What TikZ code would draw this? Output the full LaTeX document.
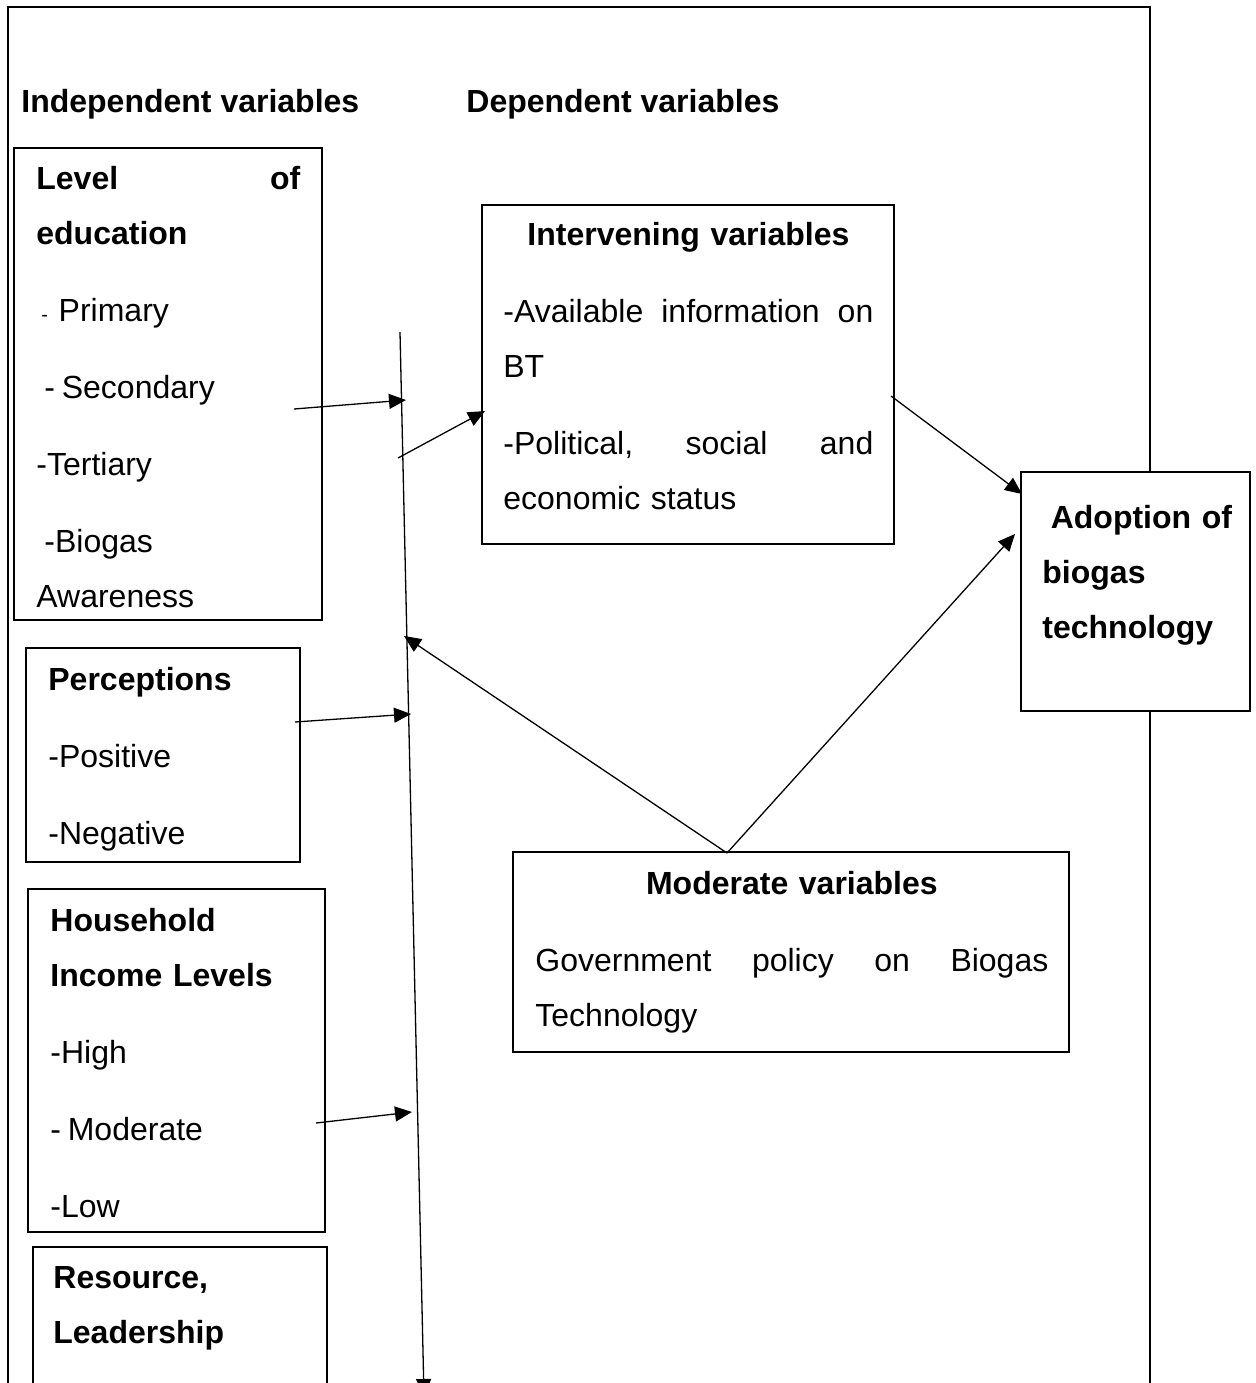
\documentclass[tikz,border=0pt]{standalone}
\usepackage{fontspec}
\setmainfont{Liberation Sans}
\usetikzlibrary{arrows.meta}

\tikzset{
  vbox/.style={draw, fill=white, line width=1.3pt, inner sep=0pt, outer sep=0pt, anchor=north west},
  txt/.style={inner sep=0pt, anchor=north west, align=left, font=\fontsize{16}{27.5}\selectfont},
  head/.style={inner sep=0pt, anchor=base west, font=\fontsize{16}{20}\selectfont\bfseries},
  conn/.style={line width=0.65pt, -{Triangle[length=8.5pt,width=7.5pt]}},
  frame/.style={line width=1.3pt}
}

\begin{document}
\begin{tikzpicture}[x=0.5pt,y=-0.5pt]
    \useasboundingbox (0,0) rectangle (1255,1383);
    \draw[frame] (8,7) rectangle (1150,1420);

    \node[head] (indepHead) at (21,112) {Independent variables};
    \node[head] (depHead) at (466,112) {Dependent variables};

    % boxes
    \node[vbox, minimum width=154pt, minimum height=236pt] (edu) at (14,148) {};
    \node[vbox, minimum width=137pt, minimum height=107pt] (perc) at (26,648) {};
    \node[vbox, minimum width=148.5pt, minimum height=171.5pt] (hh) at (28,889) {};
    \node[vbox, minimum width=147pt, minimum height=110pt] (res) at (33,1247) {};
    \node[vbox, minimum width=206pt, minimum height=169.5pt] (intv) at (482,205) {};
    \node[vbox, minimum width=114.5pt, minimum height=119.5pt] (adopt) at (1021,472) {};
    \node[vbox, minimum width=278pt, minimum height=100pt] (mod) at (513,852) {};

    % box texts
    \node[txt, text width=132pt] (eduText) at (36,166) {\textbf{Level \hfill of}\\
      \textbf{education}\\[11pt]
      \hspace*{2.5pt}{\fontsize{10}{27.5}\selectfont-} Primary\\[11pt]
      \hspace*{4pt}-\hspace{3.4pt}Secondary\\[11pt]
      -Tertiary\\[11pt]
      \hspace*{4pt}-Biogas\\
      Awareness};
    \node[txt, text width=120pt] (percText) at (48,667) {\textbf{Perceptions}\\[11pt]
      -Positive\\[11pt]
      -Negative};
    \node[txt, text width=130pt] (hhText) at (50,908) {\textbf{Household}\\
      \textbf{Income Levels}\\[11pt]
      -High\\[11pt]
      -\hspace{3.4pt}Moderate\\[11pt]
      -Low};
    \node[txt, text width=130pt] (resText) at (53,1266) {\textbf{Resource,}\\
      \textbf{Leadership}};
    \node[txt, text width=185pt] (intvText) at (503,222) {\makebox[\linewidth]{\bfseries Intervening variables}\\[11pt]
      -Available \hfill information \hfill on\\
      BT\\[11pt]
      -Political, \hfill social \hfill and\\
      economic status};
    \node[txt, text width=100pt] (adoptText) at (1042,505) {\textbf{\hspace*{4.2pt}Adoption of}\\
      \textbf{biogas}\\
      \textbf{technology}};
    \node[txt, text width=256.5pt] (modText) at (535,871) {\makebox[\linewidth]{\bfseries Moderate variables}\\[11pt]
      Government \hfill policy \hfill on \hfill Biogas\\
      Technology};

    % connectors
    \coordinate (busTop) at (400,332);
    \coordinate (busEnd) at (424,1396);
    \coordinate (eduOut) at (294,409);
    \coordinate (busA) at (406,400);
    \coordinate (busB) at (398,458);
    \coordinate (intvIn) at (485,411);
    \coordinate (intvOut) at (891,396);
    \coordinate (adoptInA) at (1022,494);
    \coordinate (modTop) at (727,853);
    \coordinate (adoptInB) at (1015,534);
    \coordinate (busC) at (404,636);
    \coordinate (percOut) at (295,722);
    \coordinate (busD) at (411,714);
    \coordinate (hhOut) at (316,1123);
    \coordinate (busE) at (412,1112);

    \draw[conn] (busTop) -- (busEnd);
    \draw[conn] (eduOut) -- (busA);
    \draw[conn] (busB) -- (intvIn);
    \draw[conn] (intvOut) -- (adoptInA);
    \draw[conn] (modTop) -- (adoptInB);
    \draw[conn] (modTop) -- (busC);
    \draw[conn] (percOut) -- (busD);
    \draw[conn] (hhOut) -- (busE);
\end{tikzpicture}
\end{document}
